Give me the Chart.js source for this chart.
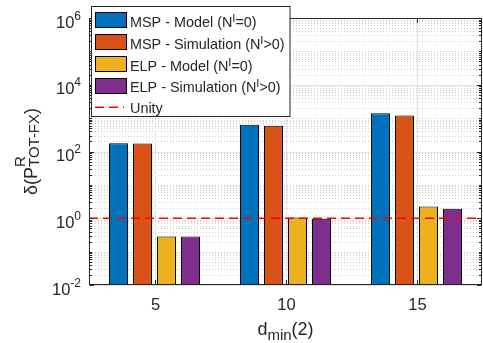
<!DOCTYPE html>
<html>
<head>
<meta charset="utf-8">
<script src="https://cdn.jsdelivr.net/npm/chart.js@4.4.0/dist/chart.umd.min.js"></script>
<style>
  html, body { margin: 0; padding: 0; background: #fff; }
  #wrap { width: 483px; height: 343px; }
</style>
</head>
<body>
<div id="wrap"><canvas id="chart" width="483" height="343"></canvas></div>
<script>
// Data
var categories = ["5", "10", "15"];
var mspModel = [178, 630, 1410];
var mspSim = [173, 588, 1200];
var elpModel = [0.285, 1.06, 2.25];
var elpSim = [0.283, 0.97, 1.92];
var unityValue = 1;
var yMajorExp = [-2, 0, 2, 4, 6];
var seriesLabels = [
    "MSP - Model (N^{I}=0)",
    "MSP - Simulation (N^{I}>0)",
    "ELP - Model (N^{I}=0)",
    "ELP - Simulation (N^{I}>0)"
];
var unityLabel = "Unity";
var xTitle = "d_{min}(2)";
var yTitle = "δ(P^{R}_{TOT-FX})";

var FONT = '"Liberation Sans", Arial, Helvetica, sans-serif';
var INK = '#262626';

// small tex-like text: ^{..} sup, _{..} sub
function parseRich(s) {
    var out = [], buf = '', i = 0;
    while (i < s.length) {
        var c = s[i];
        if (c === '^' || c === '_') {
            if (buf) { out.push({t: buf, k: 'n'}); buf = ''; }
            var k = c === '^' ? 'sup' : 'sub', t;
            if (s[i + 1] === '{') {
                var j = s.indexOf('}', i);
                t = s.slice(i + 2, j);
                i = j + 1;
            } else {
                t = s[i + 1];
                i += 2;
            }
            out.push({t: t, k: k});
        } else {
            buf += c;
            i++;
        }
    }
    if (buf) out.push({t: buf, k: 'n'});
    return out;
}

function layoutRich(ctx, s, st) {
    var toks = parseRich(s), x = 0, items = [];
    for (var i = 0; i < toks.length; i++) {
        var tk = toks[i];
        var size = tk.k === 'n' ? st.size : st.small;
        ctx.font = size + 'px ' + FONT;
        var w = ctx.measureText(tk.t).width;
        var dy = tk.k === 'sup' ? -st.rise : (tk.k === 'sub' ? st.drop : 0);
        items.push({t: tk.t, x: x, dy: dy, size: size});
        var nx = toks[i + 1];
        if (tk.k !== 'n' && nx && nx.k !== 'n' && nx.k !== tk.k) {
            ctx.font = st.small + 'px ' + FONT;
            var w2 = ctx.measureText(nx.t).width;
            items.push({t: nx.t, x: x, dy: nx.k === 'sup' ? -st.rise : st.drop, size: st.small});
            w = Math.max(w, w2);
            i++;
        }
        x += w;
    }
    return {items: items, width: x};
}

function drawRich(ctx, s, x, y, st, align) {
    var L = layoutRich(ctx, s, st);
    var x0 = align === 'right' ? x - L.width : (align === 'center' ? x - L.width / 2 : x);
    ctx.fillStyle = st.color || INK;
    ctx.textBaseline = 'alphabetic';
    ctx.textAlign = 'left';
    L.items.forEach(function (it) {
        ctx.font = it.size + 'px ' + FONT;
        ctx.fillText(it.t, x0 + it.x, y + it.dy);
    });
}

// Grid lines, axes box, ticks, titles, legend
var matlabAxes = {
    id: 'matlabAxes',
    beforeDatasetsDraw: function (chart) {
        var ctx = chart.ctx, a = chart.chartArea;
        var y = chart.scales.y, x = chart.scales.x;
        ctx.save();
        ctx.lineWidth = 1;
        // minor grid
        ctx.strokeStyle = '#cfcfcf';
        ctx.setLineDash([1, 2]);
        for (var e = -2; e < 6; e++) {
            for (var m = 1; m <= 9; m++) {
                if (m === 1 && e % 2 === 0) continue;
                var py = Math.round(y.getPixelForValue(m * Math.pow(10, e))) + 0.5;
                ctx.beginPath();
                ctx.moveTo(a.left, py);
                ctx.lineTo(a.right, py);
                ctx.stroke();
            }
        }
        ctx.setLineDash([]);
        // major grid
        ctx.strokeStyle = '#e3e3e3';
        yMajorExp.forEach(function (e) {
            var py = Math.round(y.getPixelForValue(Math.pow(10, e))) + 0.5;
            ctx.beginPath();
            ctx.moveTo(a.left, py);
            ctx.lineTo(a.right, py);
            ctx.stroke();
        });
        categories.forEach(function (c, i) {
            var px = Math.round(x.getPixelForValue(i)) + 0.5;
            ctx.beginPath();
            ctx.moveTo(px, a.top);
            ctx.lineTo(px, a.bottom);
            ctx.stroke();
        });
        ctx.restore();
    },
    afterDatasetsDraw: function (chart) {
        var ctx = chart.ctx, a = chart.chartArea;
        var y = chart.scales.y, x = chart.scales.x;
        ctx.save();

        // unity line
        var uy = y.getPixelForValue(unityValue);
        ctx.strokeStyle = '#ff0000';
        ctx.lineWidth = 1.5;
        ctx.setLineDash([9, 5]);
        ctx.beginPath();
        ctx.moveTo(a.left, uy);
        ctx.lineTo(a.right, uy);
        ctx.stroke();
        ctx.setLineDash([]);

        // box
        ctx.strokeStyle = INK;
        ctx.lineWidth = 1;
        var L = Math.round(a.left) + 0.5, R = Math.round(a.right) - 0.5;
        var T = Math.round(a.top) + 0.5, B = Math.round(a.bottom) - 0.5;
        ctx.strokeRect(L, T, R - L, B - T);

        // y ticks
        for (var e = -2; e <= 6; e++) {
            for (var m = 1; m <= 9; m++) {
                var v = m * Math.pow(10, e);
                if (v > 1e6) break;
                var py = Math.round(y.getPixelForValue(v)) + 0.5;
                var len = (m === 1 && e % 2 === 0) ? 4.5 : 2.5;
                ctx.beginPath();
                ctx.moveTo(L, py); ctx.lineTo(L + len, py);
                ctx.moveTo(R, py); ctx.lineTo(R - len, py);
                ctx.stroke();
            }
        }
        // x ticks and labels
        categories.forEach(function (c, i) {
            var px = Math.round(x.getPixelForValue(i)) + 0.5;
            ctx.beginPath();
            ctx.moveTo(px, B); ctx.lineTo(px, B - 4.5);
            ctx.moveTo(px, T); ctx.lineTo(px, T + 4.5);
            ctx.stroke();
            drawRich(ctx, c, px, a.bottom + 24.5, {size: 16.5, small: 12, rise: 0, drop: 0}, 'center');
        });

        // y tick labels
        yMajorExp.forEach(function (e) {
            var py = y.getPixelForValue(Math.pow(10, e));
            drawRich(ctx, '10^{' + e + '}', a.left - 8, py + 9.5,
                {size: 16.5, small: 12, rise: 8, drop: 0}, 'right');
        });

        // axis titles
        drawRich(ctx, xTitle, (a.left + a.right) / 2, 335,
            {size: 18, small: 15, rise: 0, drop: 5}, 'center');
        ctx.save();
        ctx.translate(37, (a.top + a.bottom) / 2);
        ctx.rotate(-Math.PI / 2);
        drawRich(ctx, yTitle, 0, 0, {size: 18, small: 15, rise: 12, drop: 2}, 'center');
        ctx.restore();

        // legend
        var lx = 91.5, ly = 6.5, lw = 198.5, lh = 110;
        ctx.fillStyle = '#ffffff';
        ctx.fillRect(lx, ly, lw, lh);
        ctx.strokeStyle = INK;
        ctx.lineWidth = 1;
        ctx.strokeRect(lx, ly, lw, lh);
        var ds = chart.data.datasets;
        var rowY = function (i) { return 19.7 + i * 21.9; };
        ds.forEach(function (d, i) {
            var cy = rowY(i);
            ctx.fillStyle = d.backgroundColor;
            ctx.fillRect(95.5, Math.round(cy - 7.5) + 0.5, 31, 15);
            ctx.strokeStyle = '#000';
            ctx.strokeRect(95.5, Math.round(cy - 7.5) + 0.5, 31, 15);
            drawRich(ctx, d.label, 130, cy + 7, {size: 14.4, small: 11, rise: 5, drop: 0}, 'left');
        });
        var uyL = rowY(4);
        ctx.strokeStyle = '#ff0000';
        ctx.lineWidth = 1.5;
        ctx.setLineDash([9, 5]);
        ctx.beginPath();
        ctx.moveTo(95, uyL);
        ctx.lineTo(124, uyL);
        ctx.stroke();
        ctx.setLineDash([]);
        drawRich(ctx, unityLabel, 130, uyL + 5.5, {size: 14.4, small: 11, rise: 5, drop: 0}, 'left');

        ctx.restore();
    }
};

var colors = ['#0072BD', '#D95319', '#EDB120', '#7E2F8E'];
var seriesData = [mspModel, mspSim, elpModel, elpSim];

var ctx = document.getElementById('chart').getContext('2d');
var chart = new Chart(ctx, {
    type: 'bar',
    data: {
        labels: categories,
        datasets: seriesData.map(function (d, i) {
            return {
                label: seriesLabels[i],
                data: d,
                backgroundColor: colors[i],
                borderColor: '#000000',
                borderWidth: 1,
                categoryPercentage: 0.733,
                barPercentage: 0.79
            };
        })
    },
    options: {
        responsive: false,
        animation: false,
        layout: {padding: {top: 18, right: 1, left: 0, bottom: 0}},
        plugins: {
            legend: {display: false},
            tooltip: {enabled: false}
        },
        scales: {
            x: {
                grid: {display: false, drawTicks: false},
                border: {display: false},
                ticks: {display: false},
                afterFit: function (s) { s.height = 58; }
            },
            y: {
                type: 'logarithmic',
                min: 0.01,
                max: 1e6,
                grid: {display: false, drawTicks: false},
                border: {display: false},
                ticks: {display: false},
                afterFit: function (s) { s.width = 89; }
            }
        }
    },
    plugins: [matlabAxes]
});
</script>
</body>
</html>
